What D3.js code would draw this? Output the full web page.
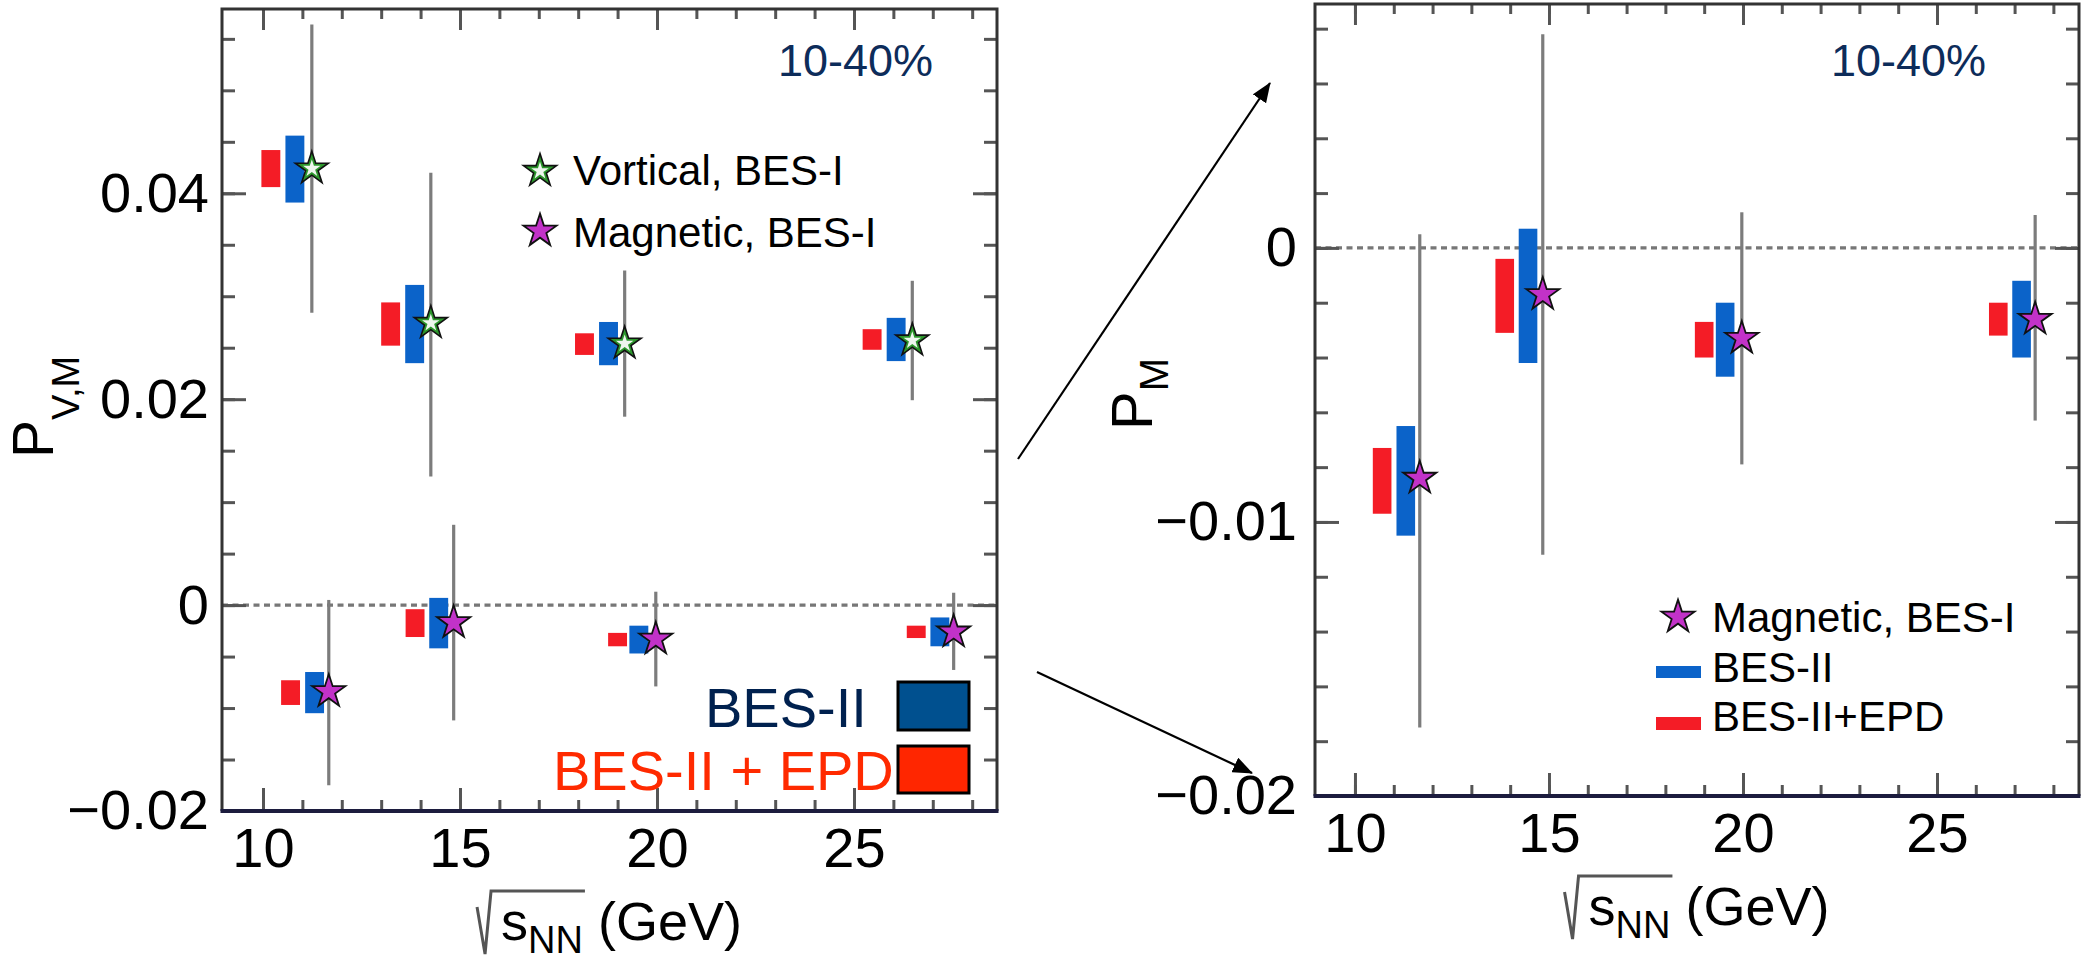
<!DOCTYPE html>
<html>
<head>
<meta charset="utf-8">
<script src="https://cdn.jsdelivr.net/npm/d3@7"></script>
<style>
  body { margin: 0; background: #fff; }
  svg text { font-family: "Liberation Sans", Arial, sans-serif; }
</style>
</head>
<body>
<svg id="chart" width="2087" height="963"></svg>
<script>
// collision energy (GeV) at which each marker is drawn
var vortStarX = [11.24, 14.26, 19.18, 26.48];
var vortBlueX = [10.81, 13.85, 18.77, 26.07];
var vortRedX  = [10.20, 13.24, 18.16, 25.46];
var magStarX  = [11.67, 14.84, 19.97, 27.53];
var magBlueX  = [11.31, 14.46, 19.54, 27.18];
var magRedX   = [10.70, 13.86, 19.00, 26.58];

// vortical polarization, BES-I (value and error bar ends)
var vortValue = [0.0424, 0.0274, 0.0254, 0.0257];
var vortErrHi = [0.0564, 0.0420, 0.0325, 0.0315];
var vortErrLo = [0.0284, 0.0125, 0.0183, 0.0199];
// projected uncertainty boxes [low, high]
var vortBlue = [[0.0391, 0.0456], [0.0235, 0.0311], [0.0233, 0.0275], [0.0237, 0.0279]];
var vortRed  = [[0.0406, 0.0442], [0.0252, 0.0294], [0.0243, 0.0264], [0.0248, 0.0268]];

// magnetic polarization, BES-I
var magValue = [-0.0084, -0.0017, -0.0033, -0.0026];
var magErrHi = [0.0005, 0.0078, 0.0013, 0.0012];
var magErrLo = [-0.0175, -0.0112, -0.0079, -0.0063];
var magBlue = [[-0.0105, -0.0065], [-0.0042, 0.0007], [-0.0047, -0.0020], [-0.0040, -0.0012]];
var magRed  = [[-0.0097, -0.0073], [-0.0031, -0.0004], [-0.0040, -0.0027], [-0.0032, -0.0020]];

// tick values
var xMajor = [10, 15, 20, 25];
var leftYMajor = [-0.02, 0, 0.02, 0.04];
var rightYMajor = [-0.02, -0.01, 0];

var svg = d3.select("#chart");
var blue = "#0b63c9", red = "#f41c26", magenta = "#c232c8";
var boxHalf = 0.24;

var star = d3.symbol().type(d3.symbolStar);

function fmtY(v) {
	if (Math.abs(v) < 1e-9) return "0";
	return d3.format(".2f")(v);
}

// one set of inward ticks on a side of the frame
function addTicks(g, axisFn, scale, values, size, transform, fmt, pad) {
	var a = axisFn(scale)
		.tickValues(values)
		.tickSize(-size)
		.tickSizeOuter(0)
		.tickPadding(pad || 0)
		.tickFormat(fmt || "");
	var sel = g.append("g").attr("transform", transform).call(a);
	sel.select(".domain").remove();
	sel.selectAll("line").attr("stroke", "#555").attr("stroke-width", 3);
	sel.selectAll("text")
		.attr("font-size", 56)
		.attr("font-family", "Liberation Sans, Arial, sans-serif")
		.attr("fill", "#000");
	return sel;
}

// sqrt(s_NN) (GeV) title, centred on cx; top = height of the overline
function xTitle(g, cx, top) {
	var t = g.append("text").attr("y", top + 49).attr("font-size", 54).attr("fill", "#000");
	t.append("tspan").text("s");
	t.append("tspan").attr("font-size", 38).attr("dy", 13).text("NN");
	t.append("tspan").attr("dy", -13).text(" (GeV)");
	var total = t.node().getComputedTextLength() + 24;
	var x0 = cx - total / 2 + 24;
	t.attr("x", x0);
	t.select("tspan").attr("x", x0);
	var sw = t.node().getSubStringLength(0, 3);
	g.append("path")
		.attr("d", "M" + (x0 - 24) + "," + (top + 16) + " L" + (x0 - 16) + "," + (top + 63) +
			" L" + (x0 - 10) + "," + top + " L" + (x0 + sw + 2) + "," + top)
		.attr("fill", "none")
		.attr("stroke", "#555")
		.attr("stroke-width", 3);
}

function panel(opt) {
	var g = svg.append("g");
	var x = d3.scaleLinear().domain(opt.xDomain).range([opt.left, opt.right]);
	var y = d3.scaleLinear().domain(opt.yDomain).range([opt.bottom, opt.top]);

	// zero line
	g.append("line")
		.attr("x1", opt.left).attr("x2", opt.right)
		.attr("y1", y(0)).attr("y2", y(0))
		.attr("stroke", "#777")
		.attr("stroke-width", 3.2)
		.attr("stroke-dasharray", "6,4.5");

	opt.series.forEach(function(s) {
		var idx = d3.range(s.value.length);

		g.selectAll(null).data(idx).enter().append("rect")
			.attr("x", function(i) { return x(s.redX[i] - boxHalf); })
			.attr("width", function(i) { return x(s.redX[i] + boxHalf) - x(s.redX[i] - boxHalf); })
			.attr("y", function(i) { return y(s.red[i][1]); })
			.attr("height", function(i) { return y(s.red[i][0]) - y(s.red[i][1]); })
			.attr("fill", red);

		g.selectAll(null).data(idx).enter().append("rect")
			.attr("x", function(i) { return x(s.blueX[i] - boxHalf); })
			.attr("width", function(i) { return x(s.blueX[i] + boxHalf) - x(s.blueX[i] - boxHalf); })
			.attr("y", function(i) { return y(s.blue[i][1]); })
			.attr("height", function(i) { return y(s.blue[i][0]) - y(s.blue[i][1]); })
			.attr("fill", blue);

		g.selectAll(null).data(idx).enter().append("line")
			.attr("x1", function(i) { return x(s.starX[i]); })
			.attr("x2", function(i) { return x(s.starX[i]); })
			.attr("y1", function(i) { return y(s.errHi[i]); })
			.attr("y2", function(i) { return y(s.errLo[i]); })
			.attr("stroke", "#7c7c7c")
			.attr("stroke-width", 3.2);

		idx.forEach(function(i) {
			drawStar(g, x(s.starX[i]), y(s.value[i]), s.kind);
		});
	});

	// ticks
	var xMinor = d3.range(10, 29);
	var yMinor = d3.range(opt.yDomain[0], opt.yDomain[1] + 1e-9, opt.yMinorStep);
	addTicks(g, d3.axisBottom, x, xMinor, 11, "translate(0," + opt.bottom + ")");
	addTicks(g, d3.axisBottom, x, xMajor, 23, "translate(0," + opt.bottom + ")", d3.format("d"), 16);
	addTicks(g, d3.axisTop, x, xMinor, 10, "translate(0," + opt.top + ")");
	addTicks(g, d3.axisTop, x, xMajor, 21, "translate(0," + opt.top + ")");
	addTicks(g, d3.axisLeft, y, yMinor, 13, "translate(" + opt.left + ",0)");
	addTicks(g, d3.axisLeft, y, opt.yMajor, 24, "translate(" + opt.left + ",0)", fmtY, opt.yPad);
	addTicks(g, d3.axisRight, y, yMinor, 13, "translate(" + opt.right + ",0)");
	addTicks(g, d3.axisRight, y, opt.yMajor, 24, "translate(" + opt.right + ",0)");

	// frame
	g.append("path")
		.attr("d", "M" + opt.left + "," + opt.bottom + " V" + opt.top + " H" + opt.right + " V" + opt.bottom)
		.attr("fill", "none").attr("stroke", "#333").attr("stroke-width", 3);
	g.append("line")
		.attr("x1", opt.left - 1.5).attr("x2", opt.right + 1.5)
		.attr("y1", opt.bottom).attr("y2", opt.bottom)
		.attr("stroke", "#1c1c3e").attr("stroke-width", 4);

	// 10-40%
	g.append("text")
		.attr("x", opt.centX).attr("y", 76)
		.attr("font-family", "Open Sans")
		.attr("font-size", 45)
		.attr("fill", "#0d2c5a")
		.text("10-40%");

	xTitle(g, (opt.left + opt.right) / 2, opt.bottom + 80);
	return {g: g, x: x, y: y};
}

function drawStar(g, cx, cy, kind) {
	if (kind === "vort") {
		g.append("path").attr("d", star.size(340)())
			.attr("transform", "translate(" + cx + "," + cy + ")")
			.attr("fill", "#2b962b").attr("stroke", "#111").attr("stroke-width", 1.6);
		g.append("path").attr("d", star.size(95)())
			.attr("transform", "translate(" + cx + "," + cy + ")")
			.attr("fill", "#eef6ee");
	} else {
		g.append("path").attr("d", star.size(340)())
			.attr("transform", "translate(" + cx + "," + cy + ")")
			.attr("fill", magenta).attr("stroke", "#111").attr("stroke-width", 1.8);
	}
}

var vortSeries = {kind: "vort", starX: vortStarX, blueX: vortBlueX, redX: vortRedX,
	value: vortValue, errHi: vortErrHi, errLo: vortErrLo, blue: vortBlue, red: vortRed};
var magSeries = {kind: "mag", starX: magStarX, blueX: magBlueX, redX: magRedX,
	value: magValue, errHi: magErrHi, errLo: magErrLo, blue: magBlue, red: magRed};

/********* LEFT PANEL: vortical and magnetic ************/
var L = panel({
	left: 222, right: 997, top: 9, bottom: 811,
	xDomain: [8.96, 28.63], yDomain: [-0.02, 0.0579],
	yMajor: leftYMajor, yMinorStep: 0.005, yPad: 13, centX: 778,
	series: [vortSeries, magSeries]
});

// y title P_{V,M}
var ltl = L.g.append("text")
	.attr("transform", "translate(53,458) rotate(-90)")
	.attr("font-size", 57).attr("fill", "#000");
ltl.append("tspan").text("P");
ltl.append("tspan").attr("font-size", 38).attr("dy", 26).text("V,M");

// legend: BES-I markers
drawStar(L.g, 540, 171, "vort");
drawStar(L.g, 540, 231, "mag");
L.g.append("text").attr("x", 573).attr("y", 185).attr("font-size", 42).text("Vortical, BES-I");
L.g.append("text").attr("x", 573).attr("y", 247).attr("font-size", 42).text("Magnetic, BES-I");

// legend: BES-II projections
L.g.append("text").attr("x", 705).attr("y", 727)
	.attr("font-family", "Open Sans").attr("font-size", 56).attr("fill", "#00214f").text("BES-II");
L.g.append("text").attr("x", 553).attr("y", 790)
	.attr("font-family", "Open Sans").attr("font-size", 56).attr("fill", "#ff2a00").text("BES-II + EPD");
L.g.append("rect").attr("x", 898).attr("y", 682).attr("width", 71).attr("height", 48)
	.attr("fill", "#00508f").attr("stroke", "#000").attr("stroke-width", 3);
L.g.append("rect").attr("x", 898).attr("y", 746).attr("width", 71).attr("height", 47)
	.attr("fill", "#ff2600").attr("stroke", "#000").attr("stroke-width", 3);

/********* RIGHT PANEL: magnetic zoom ************/
var R = panel({
	left: 1315, right: 2079, top: 4, bottom: 796,
	xDomain: [8.97, 28.66], yDomain: [-0.02, 0.0089],
	yMajor: rightYMajor, yMinorStep: 0.002, yPad: 18, centX: 1831,
	series: [magSeries]
});

var rtl = R.g.append("text")
	.attr("transform", "translate(1152,430) rotate(-90)")
	.attr("font-size", 58).attr("fill", "#000");
rtl.append("tspan").text("P");
rtl.append("tspan").attr("font-size", 40).attr("dy", 16).text("M");

drawStar(R.g, 1678, 617, "mag");
R.g.append("text").attr("x", 1712).attr("y", 632).attr("font-size", 42).text("Magnetic, BES-I");
R.g.append("rect").attr("x", 1656).attr("y", 666).attr("width", 45).attr("height", 12).attr("fill", blue);
R.g.append("text").attr("x", 1712).attr("y", 682).attr("font-size", 42).text("BES-II");
R.g.append("rect").attr("x", 1656).attr("y", 717).attr("width", 45).attr("height", 13).attr("fill", red);
R.g.append("text").attr("x", 1712).attr("y", 731).attr("font-size", 42).text("BES-II+EPD");

/********* zoom arrows ************/
svg.append("defs").append("marker")
	.attr("id", "head")
	.attr("markerUnits", "userSpaceOnUse")
	.attr("markerWidth", 20).attr("markerHeight", 16)
	.attr("refX", 19).attr("refY", 8)
	.attr("orient", "auto")
	.append("path").attr("d", "M0,0 L20,8 L0,16 Z").attr("fill", "#000");

svg.append("line").attr("x1", 1018).attr("y1", 459).attr("x2", 1270).attr("y2", 83)
	.attr("stroke", "#000").attr("stroke-width", 2.2).attr("marker-end", "url(#head)");
svg.append("line").attr("x1", 1037).attr("y1", 672).attr("x2", 1252).attr("y2", 773)
	.attr("stroke", "#000").attr("stroke-width", 2.2).attr("marker-end", "url(#head)");
</script>
</body>
</html>
